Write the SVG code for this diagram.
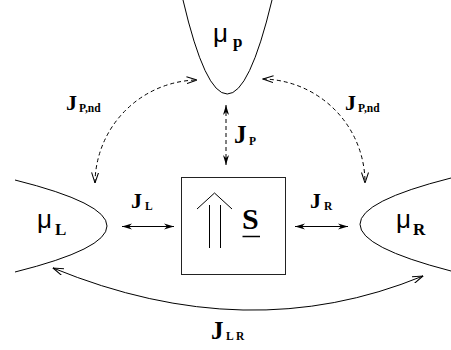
<svg xmlns="http://www.w3.org/2000/svg" width="451" height="350" viewBox="0 0 451 350">
<defs>
<style>
.ln{fill:none;stroke:#000;stroke-width:1}
.dash{stroke-dasharray:4,3}
.J{font-family:"Liberation Serif","Times New Roman",serif;font-weight:bold;font-size:22px;fill:#000}
.JB{font-family:"Liberation Serif","Times New Roman",serif;font-weight:bold;font-size:25px;fill:#000}
.sub{font-family:"Liberation Serif","Times New Roman",serif;font-weight:bold;font-size:11.5px;fill:#000}
.msub{font-family:"Liberation Serif","Times New Roman",serif;font-weight:bold;font-size:17px;fill:#000}
.mu{font-family:"Liberation Sans",Arial,sans-serif;font-size:26px;fill:#000}
</style>
<marker id="open" viewBox="0 0 11 8" refX="10.5" refY="4" markerWidth="11" markerHeight="8" markerUnits="userSpaceOnUse" orient="auto-start-reverse">
<path d="M0,0.5 L10.5,4 L0,7.5" fill="none" stroke="#000" stroke-width="1" stroke-dasharray="none"/>
</marker>
<marker id="fill" viewBox="0 0 10 7" refX="10" refY="3.5" markerWidth="10" markerHeight="7" markerUnits="userSpaceOnUse" orient="auto-start-reverse">
<path d="M0,0.5 L10,3.5 L0,6.5 L3,3.5 Z" fill="#000" stroke="none"/>
</marker>
</defs>

<g id="reservoir-P">
<path class="ln" d="M183,0 Q227,188 272,0"/>
<text class="mu" x="213" y="42">μ</text>
<text class="msub" x="233" y="47">p</text>
</g>

<g id="reservoir-L">
<path class="ln" d="M15,180 Q199,226 15,272"/>
<text class="mu" x="37" y="228">μ</text>
<text class="msub" x="55" y="235">L</text>
</g>

<g id="reservoir-R">
<path class="ln" d="M451,178 Q269,224 451,271"/>
<text class="mu" x="396" y="228">μ</text>
<text class="msub" x="413" y="235">R</text>
</g>

<g id="spin-S">
<rect x="181.5" y="177.5" width="104" height="97" fill="none" stroke="#222" stroke-width="1"/>
<path class="ln" d="M209.5,205 L209.5,248 M220.5,205 L220.5,248 M197,209 L214.5,193 L232,209"/>
<text x="242" y="229" style="font-family:'Liberation Serif','Times New Roman',serif;font-weight:bold;font-size:30px">S</text>
<line x1="242.5" y1="236.5" x2="260" y2="236.5" stroke="#000" stroke-width="1.5"/>
</g>

<g id="connectors">
<path class="ln dash" d="M95,183 A104,104 0 0 1 197,80" marker-start="url(#open)" marker-end="url(#open)"/>
<path class="ln dash" d="M263,79 A104,104 0 0 1 365,183" marker-start="url(#open)" marker-end="url(#open)"/>
<path class="ln dash" d="M226,105 L226,165" marker-start="url(#fill)" marker-end="url(#fill)"/>
<path class="ln" d="M122,226.5 L174,226.5" marker-start="url(#fill)" marker-end="url(#fill)"/>
<path class="ln" d="M295,226.5 L348,226.5" marker-start="url(#fill)" marker-end="url(#fill)"/>
<path class="ln" d="M53,268 Q248,348 423,276" marker-start="url(#open)" marker-end="url(#open)"/>
</g>

<g id="labels">
<text class="J" x="66" y="110">J</text><text class="sub" x="79" y="112">P,nd</text>
<text class="J" x="345" y="110">J</text><text class="sub" x="358" y="112">P,nd</text>
<text class="JB" x="234" y="143">J</text><text class="sub" x="249" y="145">P</text>
<text class="J" x="131" y="208">J</text><text class="sub" x="145" y="210">L</text>
<text class="J" x="310" y="208">J</text><text class="sub" x="324" y="210">R</text>
<text class="JB" x="211" y="339">J</text><text class="sub" x="226" y="340">L R</text>
</g>
</svg>
